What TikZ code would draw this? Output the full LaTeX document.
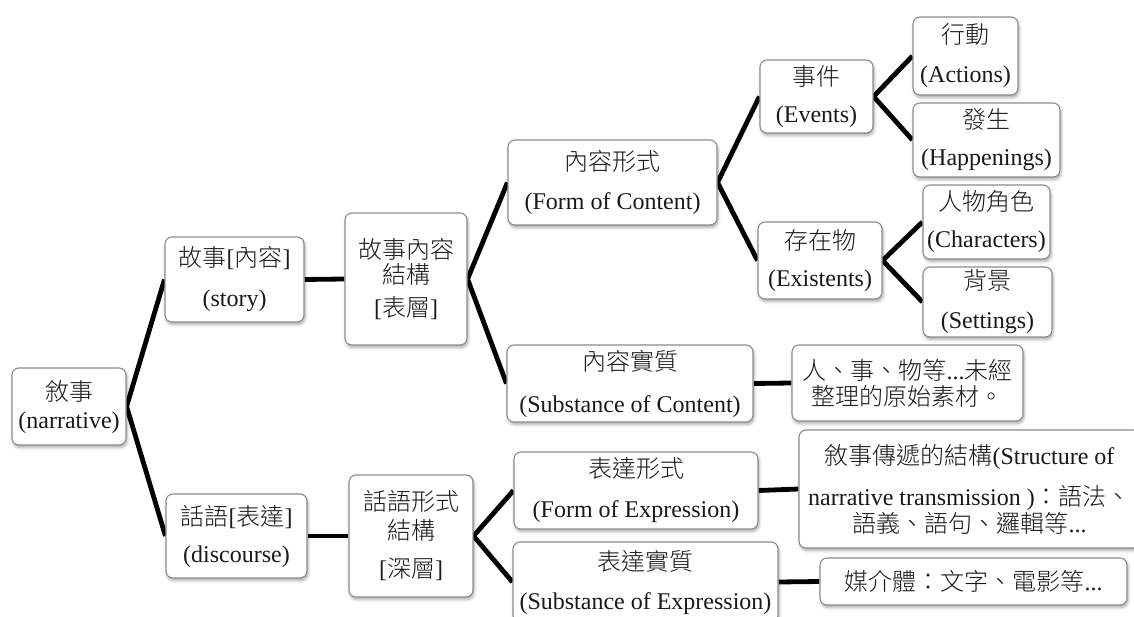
\documentclass[tikz,border=0pt]{standalone}
\usepackage{fontspec}
\setmainfont{Liberation Serif}
\newfontfamily\zhfont{Noto Sans CJK TC}[UprightFont={* Light}]
\newcommand\zh[1]{{\zhfont #1}}
\usetikzlibrary{shadows.blur,backgrounds}
\definecolor{boxgray}{HTML}{8C8C8C}
\tikzset{
  box/.style={draw=boxgray, line width=1.1pt, fill=white, rounded corners=7pt,
    inner sep=0pt, align=center, text=black!90,
    font=\fontsize{24}{27}\selectfont,
    blur shadow={shadow xshift=1pt, shadow yshift=-2.5pt,
      shadow blur radius=3pt, shadow opacity=35}},
  link/.style={line width=4.8pt, black, line join=miter}
}
% box given by its corners (x1,y1)-(x2,y2), y measured downwards
\newcommand\bx[6]{\node[box, minimum width={#4-#2}, minimum height={#5-#3}]
  (#1) at ({(#2+#4)/2},{(#3+#5)/2}) {#6};}

\begin{document}
\begin{tikzpicture}[x=1pt,y=-1pt]
\useasboundingbox (0,0) rectangle (1134,617);
\begin{scope}
\clip (0,0) rectangle (1134,617);
\bx{nar}{12}{368}{126}{445}{\zh{敘事}\\[1pt](narrative)}
\bx{story}{165}{237}{304}{322}{\zh{故事}[\zh{內容}]\\[13pt](story)}
\bx{sstruct}{345}{213}{467}{345}{\zh{故事內容}\\[-2pt]\zh{結構}\\[6pt]{[}\zh{表層}{]}}
\bx{foc}{508}{140}{717}{225}{\zh{內容形式}\\[12pt](Form of Content)}
\bx{events}{760}{60}{873}{133}{\zh{事件}\\[10pt](Events)}
\bx{actions}{913}{17}{1018}{95}{\zh{行動}\\[12pt](Actions)}
\bx{happen}{913}{103}{1060}{177}{\zh{發生}\\[10pt](Happenings)}
\bx{exist}{758}{222}{882}{299}{\zh{存在物}\\[10pt](Existents)}
\bx{chars}{923}{185}{1050}{259}{\zh{人物角色}\\[10pt](Characters)}
\bx{sett}{923}{267}{1052}{337}{\zh{背景}\\[12pt](Settings)}
\bx{soc}{507}{345}{753}{422}{\zh{內容實質}\\[15pt](Substance of Content)}
\bx{raw}{792}{345}{1023}{421}{\zh{人、事、物等}...\zh{未經}\\[-1pt]\zh{整理的原始素材。}}
\bx{disc}{166}{494}{307}{578}{\zh{話語}[\zh{表達}]\\[10pt](discourse)}
\bx{dstruct}{349}{475}{473}{597}{\zh{話語形式}\\[2pt]\zh{結構}\\[11pt]{[}\zh{深層}{]}}
\bx{foe}{514}{452}{758}{529}{\zh{表達形式}\\[13pt](Form of Expression)}
\bx{soe}{513}{542}{778}{622}{\zh{表達實質}\\[12pt](Substance of Expression)}
\bx{trans}{799}{430}{1140}{548}{\zh{敘事傳遞的結構}(Structure of\\[14pt]narrative transmission )\zh{：語法、}\\[0pt]\zh{語義、語句、邏輯等}...}
\bx{media}{820}{558}{1127}{605}{\zh{媒介體：文字、電影等}...}
\end{scope}
\begin{pgfonlayer}{background}
\draw[link] (story.west) -- (nar.east) -- (disc.west);
\draw[link] (story.east) -- (sstruct.west);
\draw[link] (foc.west) -- (sstruct.east) -- (soc.west);
\draw[link] (events.west) -- (foc.east) -- (exist.west);
\draw[link] (actions.west) -- (events.east) -- (happen.west);
\draw[link] (chars.west) -- (exist.east) -- (sett.west);
\draw[link] (soc.east) -- (raw.west);
\draw[link] (disc.east) -- (dstruct.west);
\draw[link] (foe.west) -- (dstruct.east) -- (soe.west);
\draw[link] (foe.east) -- (trans.west);
\draw[link] (soe.east) -- (media.west);
\end{pgfonlayer}
\end{tikzpicture}
\end{document}
